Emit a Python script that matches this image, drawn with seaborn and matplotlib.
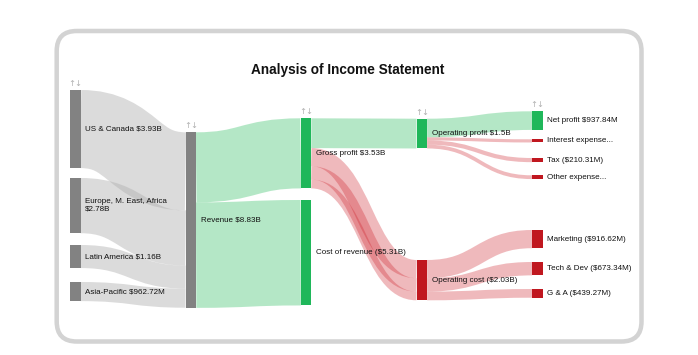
import numpy as np
import pandas as pd
import seaborn as sns
import matplotlib
matplotlib.use("Agg")
import matplotlib.pyplot as plt
from matplotlib.path import Path
from matplotlib.patches import PathPatch, FancyBboxPatch, Rectangle

# ---------------- data (billions of $) ----------------
node_names = ["US & Canada", "Europe, M. East, Africa", "Latin America", "Asia-Pacific",
              "Revenue", "Gross profit", "Cost of revenue",
              "Operating profit", "Operating cost",
              "Net profit", "Interest expense", "Tax", "Other expense",
              "Marketing", "Tech & Dev", "G & A"]
node_labels = ["US & Canada $3.93B", "Europe, M. East, Africa\n$2.78B", "Latin America $1.16B",
               "Asia-Pacific $962.72M", "Revenue $8.83B", "Gross profit $3.53B",
               "Cost of revenue ($5.31B)", "Operating profit $1.5B", "Operating cost ($2.03B)",
               "Net profit $937.84M", "Interest expense...", "Tax ($210.31M)", "Other expense...",
               "Marketing ($916.62M)", "Tech & Dev ($673.34M)", "G & A ($439.27M)"]
node_values = [3.93, 2.78, 1.16, 0.96272, 8.83, 3.53, 5.31, 1.50, 2.03,
               0.93784, 0.16, 0.21031, 0.19, 0.91662, 0.67334, 0.43927]
node_kind = ["region"] * 5 + ["gain", "gain", "gain", "loss", "gain",
                              "loss", "loss", "loss", "loss", "loss", "loss"]

link_source = ["US & Canada", "Europe, M. East, Africa", "Latin America", "Asia-Pacific",
               "Revenue", "Revenue", "Gross profit",
               "Gross profit", "Gross profit", "Gross profit",
               "Operating profit", "Operating profit", "Operating profit", "Operating profit",
               "Operating cost", "Operating cost", "Operating cost"]
link_target = ["Revenue", "Revenue", "Revenue", "Revenue",
               "Gross profit", "Cost of revenue", "Operating profit",
               "Operating cost", "Operating cost", "Operating cost",
               "Net profit", "Interest expense", "Tax", "Other expense",
               "Marketing", "Tech & Dev", "G & A"]
link_value = [3.93, 2.78, 1.16, 0.96272, 3.53, 5.31, 1.50,
              0.91662, 0.67334, 0.43927,
              0.93784, 0.16, 0.21031, 0.19,
              0.91662, 0.67334, 0.43927]

title = "Analysis of Income Statement"

# ---------------- layout (pixels) ----------------
W, H, DPI = 698, 355, 100
px_per_b = 19.86
node_w = 10.6
col_x = [70, 185.5, 300.7, 416.5, 532]
node_col = [0, 0, 0, 0, 1, 2, 2, 3, 3, 4, 4, 4, 4, 4, 4, 4]
node_top = [90, 178, 245, 282, 132.3, 118.3, 200, 118.7, 260,
            111.3, 139.3, 158, 175.3, 230, 262, 289]
icon_nodes = ["US & Canada", "Revenue", "Gross profit", "Operating profit", "Net profit"]

node_color = {"region": "#828282", "gain": "#1fb75a", "loss": "#c0171f"}
link_color = {"region": ("#b0b0b0", 0.45), "gain": ("#1db954", 0.33), "loss": ("#cc1a24", 0.30)}

sns.set_theme(style="white")
plt.rcParams["font.family"] = ["Liberation Sans", "DejaVu Sans"]

nodes = pd.DataFrame({"name": node_names, "label": node_labels, "value": node_values,
                      "kind": node_kind, "col": node_col, "top": node_top}).set_index("name")
nodes["x"] = [col_x[c] for c in nodes["col"]]
nodes["h"] = nodes["value"] * px_per_b
links = pd.DataFrame({"source": link_source, "target": link_target, "value": link_value})

fig = plt.figure(figsize=(W / DPI, H / DPI), dpi=DPI)
ax = fig.add_axes([0, 0, 1, 1])
ax.set_xlim(0, W)
ax.set_ylim(H, 0)
ax.axis("off")

# frame
ax.add_patch(FancyBboxPatch((56.7, 31), 641.5 - 56.7, 341.5 - 31,
                            boxstyle="round,pad=0,rounding_size=20",
                            fill=False, ec="#d3d3d3", lw=4.5 * 72 / DPI, zorder=0))

ax.text(347.5, 70, title, ha="center", va="center", fontsize=9.8,
        fontweight="bold", color="#111111")

# links drawn as constant-width strokes along horizontal beziers
out_off = {n: 0.0 for n in nodes.index}
in_off = {n: 0.0 for n in nodes.index}
for _, r in links.iterrows():
    s, t = nodes.loc[r.source], nodes.loc[r.target]
    w = r.value * px_per_b
    y0 = s.top + out_off[r.source] + w / 2
    y1 = t.top + in_off[r.target] + w / 2
    out_off[r.source] += w
    in_off[r.target] += w
    x0 = s.x + node_w
    x1 = t.x
    xm = (x0 + x1) / 2
    kind = "region" if s.kind == "region" and t.kind == "region" else t.kind
    col, a = link_color[kind]
    path = Path([(x0, y0), (xm, y0), (xm, y1), (x1, y1)],
                [Path.MOVETO, Path.CURVE4, Path.CURVE4, Path.CURVE4])
    ax.add_patch(PathPatch(path, fill=False, ec=col, alpha=a, lw=w * 72 / DPI,
                           capstyle="butt", zorder=1))

# nodes and labels
for name, n in nodes.iterrows():
    ax.add_patch(Rectangle((n.x, n.top), node_w, n.h, fc=node_color[n.kind], ec="none", zorder=2))
    ax.text(n.x + node_w + 4.5, n.top + n.h / 2, n.label, ha="left", va="center",
            fontsize=5.8, color="#111111", linespacing=1.1, zorder=3)
    if name in icon_nodes:
        ax.text(n.x + node_w / 2, n.top - 6.5, "↑↓", ha="center", va="center",
                fontsize=6, color="#b0b0b0", family=["DejaVu Sans"], zorder=3)

fig.savefig("out.png", dpi=DPI)
